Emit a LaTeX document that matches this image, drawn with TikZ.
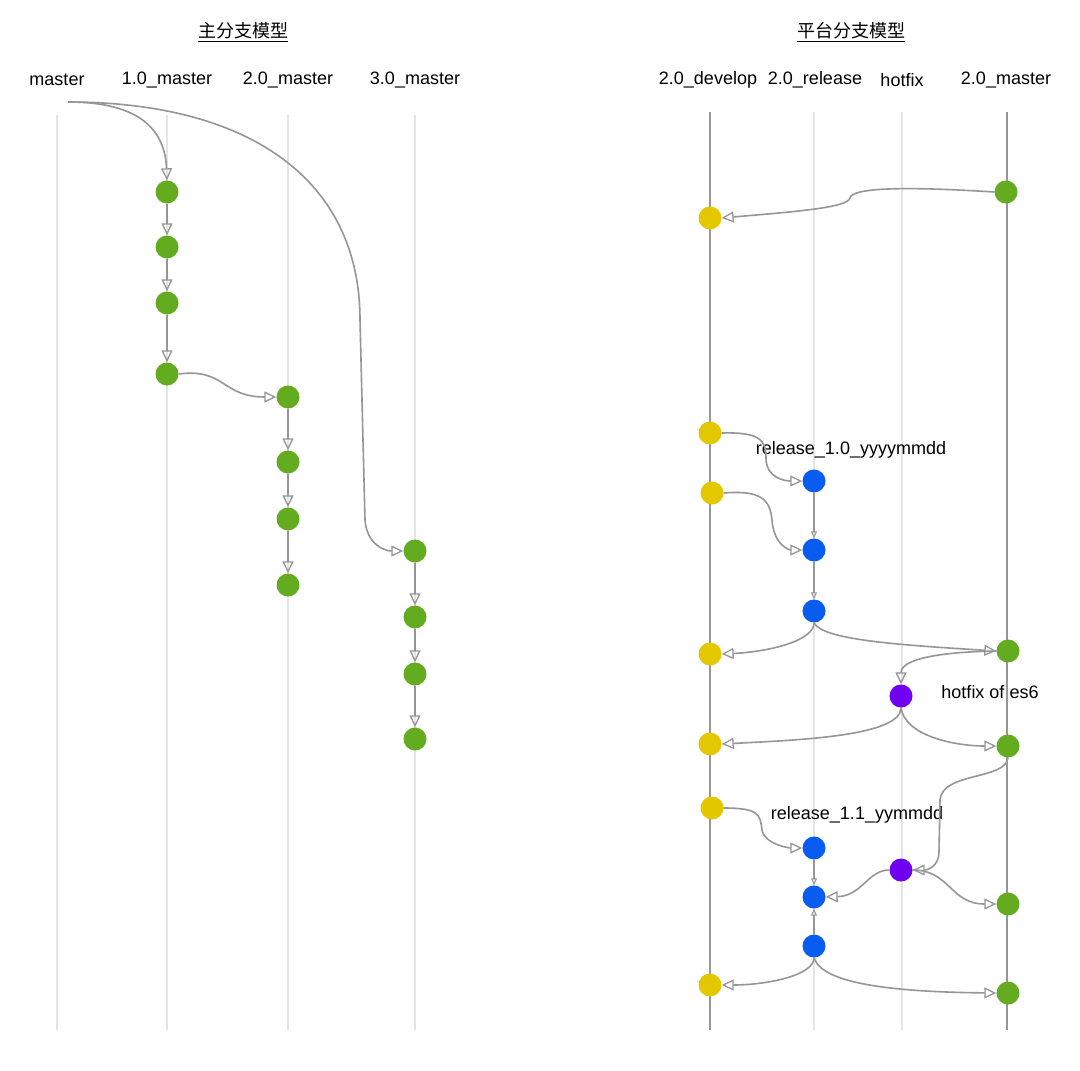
\documentclass[tikz,border=0pt]{standalone}
\usepackage{fontspec}
\setmainfont{Liberation Sans}
\newfontfamily\cjk{Noto Sans CJK SC}
\usetikzlibrary{arrows.meta}
\definecolor{cgreen}{RGB}{99,171,31}
\definecolor{cyellow}{RGB}{227,200,0}
\definecolor{cblue}{RGB}{8,92,240}
\definecolor{cpurple}{RGB}{112,0,240}
\definecolor{lanelight}{RGB}{228,228,228}
\definecolor{linegray}{RGB}{150,150,150}
\tikzset{
  commit/.style={circle, inner sep=0pt, minimum size=23pt, draw=none},
  gnode/.style={commit, fill=cgreen},
  ynode/.style={commit, fill=cyellow},
  bnode/.style={commit, fill=cblue},
  pnode/.style={commit, fill=cpurple},
  lanelbl/.style={font=\fontsize{18}{20}\selectfont, inner sep=0pt},
  ttl/.style={font=\cjk\fontsize{18}{20}\selectfont, inner sep=0pt},
  lightlane/.style={draw=lanelight, line width=1.8pt},
  darklane/.style={draw=linegray, line width=1.4pt},
  flow/.style={draw=linegray, line width=1.6pt, -{Triangle[open, length=12pt, width=11pt, line width=1.3pt]}},
  tiny/.style={draw=linegray, line width=1.5pt, -{Triangle[open, length=7pt, width=6pt, line width=1pt]}},
}
\begin{document}
\begin{tikzpicture}[x=1pt, y=-1pt]
\useasboundingbox (0,0) rectangle (1080,1071);
\fill[white] (0,0) rectangle (1080,1071);

% ---------- titles ----------
\node[ttl] (t1) at (243,32) {\underline{主分支模型}};
\node[ttl] (t2) at (851,32) {\underline{平台分支模型}};

% ---------- left lane labels ----------
\node[lanelbl] (lm)  at (57,80)  {master};
\node[lanelbl] (l1)  at (167,80) {1.0\_master};
\node[lanelbl] (l2)  at (288,80) {2.0\_master};
\node[lanelbl] (l3)  at (415,80) {3.0\_master};

% ---------- right lane labels ----------
\node[lanelbl] (rd)  at (708,80)  {2.0\_develop};
\node[lanelbl] (rr)  at (815,80)  {2.0\_release};
\node[lanelbl] (rh)  at (902,80)  {hotfix};
\node[lanelbl] (rm)  at (1006,80) {2.0\_master};

% ---------- lanes ----------
\coordinate (a0) at (57,115);  \coordinate (a1) at (57,1030);
\coordinate (b0) at (167,115); \coordinate (b1) at (167,1030);
\coordinate (c0) at (288,115); \coordinate (c1) at (288,1030);
\coordinate (d0) at (415,115); \coordinate (d1) at (415,1030);
\draw[lightlane] (a0) -- (a1);
\draw[lightlane] (b0) -- (b1);
\draw[lightlane] (c0) -- (c1);
\draw[lightlane] (d0) -- (d1);

\coordinate (e0) at (710,112);  \coordinate (e1) at (710,1030);
\coordinate (f0) at (814,112);  \coordinate (f1) at (814,1030);
\coordinate (g0) at (902,112);  \coordinate (g1) at (902,1030);
\coordinate (h0) at (1007,112); \coordinate (h1) at (1007,1030);
\draw[lightlane] (f0) -- (f1);
\draw[lightlane] (g0) -- (g1);
\draw[darklane] (e0) -- (e1);
\draw[darklane] (h0) -- (h1);

% ---------- left commits ----------
\node[gnode] (n1a) at (167,192) {};
\node[gnode] (n1b) at (167,247) {};
\node[gnode] (n1c) at (167,303) {};
\node[gnode] (n1d) at (167,374) {};
\node[gnode] (n2a) at (288,397) {};
\node[gnode] (n2b) at (288,462) {};
\node[gnode] (n2c) at (288,519) {};
\node[gnode] (n2d) at (288,585) {};
\node[gnode] (n3a) at (415,551) {};
\node[gnode] (n3b) at (415,617) {};
\node[gnode] (n3c) at (415,674) {};
\node[gnode] (n3d) at (415,739) {};

\coordinate (ms) at (68,102);

\draw[flow] (ms) .. controls (140,102) and (165,130) .. (n1a.north);
\draw[flow] (ms) .. controls (250,102) and (360,180) .. (360,320)
  -- (365,520) .. controls (367,545) and (385,551) .. (n3a.west);
\draw[flow] (n1a) -- (n1b);
\draw[flow] (n1b) -- (n1c);
\draw[flow] (n1c) -- (n1d);
\draw[flow] (n1d.east) .. controls (225,368) and (222,397) .. (n2a.west);
\draw[flow] (n2a) -- (n2b);
\draw[flow] (n2b) -- (n2c);
\draw[flow] (n2c) -- (n2d);
\draw[flow] (n3a) -- (n3b);
\draw[flow] (n3b) -- (n3c);
\draw[flow] (n3c) -- (n3d);

% ---------- right commits ----------
\node[ynode] (d1) at (710,218) {};
\node[ynode] (d2) at (710,433) {};
\node[ynode] (d3) at (712,493) {};
\node[ynode] (d4) at (710,654) {};
\node[ynode] (d5) at (710,744) {};
\node[ynode] (d6) at (712,808) {};
\node[ynode] (d7) at (710,985) {};

\node[bnode] (r1) at (814,481) {};
\node[bnode] (r2) at (814,550) {};
\node[bnode] (r3) at (814,611) {};
\node[bnode] (r4) at (814,848) {};
\node[bnode] (r5) at (814,897) {};
\node[bnode] (r6) at (814,946) {};

\node[pnode] (p1) at (901,696) {};
\node[pnode] (p2) at (901,870) {};

\node[gnode] (m1) at (1006,192) {};
\node[gnode] (m2) at (1008,651) {};
\node[gnode] (m3) at (1008,746) {};
\node[gnode] (m4) at (1008,904) {};
\node[gnode] (m5) at (1008,993) {};

% ---------- right labels ----------
\node[lanelbl] (lab1) at (851,450) {release\_1.0\_yyyymmdd};
\node[lanelbl] (lab2) at (990,692) {hotfix of es6};
\node[lanelbl] (lab3) at (857,815) {release\_1.1\_yymmdd};

% ---------- right connectors ----------
\draw[flow] (m1.west) .. controls (900,186) and (852,188) .. (850,198)
  .. controls (848,208) and (790,212) .. (d1.east);
\draw[flow] (d2.east) .. controls (760,432) and (766,440) .. (766,458)
  .. controls (766,478) and (785,481) .. (r1.west);
\draw[flow] (d3.east) .. controls (762,490) and (770,500) .. (772,520)
  .. controls (774,546) and (790,550) .. (r2.west);
\draw[tiny] (r1) -- (r2);
\draw[tiny] (r2) -- (r3);
\draw[flow] (r3.south) .. controls (814,642) and (765,652) .. (d4.east);
\draw[flow] (r3.south) .. controls (822,640) and (900,645) .. (m2.west);
\draw[flow] (m2.west) .. controls (935,652) and (901,660) .. (p1.north);
\draw[flow] (p1.south) .. controls (901,736) and (800,740) .. (d5.east);
\draw[flow] (p1.south) .. controls (905,736) and (955,746) .. (m3.west);
\draw[flow] (d6.east) .. controls (760,808) and (760,815) .. (762,830)
  .. controls (765,845) and (790,848) .. (r4.west);
\draw[flow] (m3.south) .. controls (1006,780) and (942,772) .. (940,800)
  -- (939,852) .. controls (939,866) and (928,870) .. (p2.east);
\draw[flow] (p2.west) .. controls (868,870) and (862,896) .. (r5.east);
\draw[flow] (p2.east) .. controls (950,870) and (950,904) .. (m4.west);
\draw[tiny] (r4) -- (r5);
\draw[tiny] (r6) -- (r5);
\draw[flow] (r6.south) .. controls (814,976) and (765,985) .. (d7.east);
\draw[flow] (r6.south) .. controls (822,985) and (900,992) .. (m5.west);
\end{tikzpicture}
\end{document}
